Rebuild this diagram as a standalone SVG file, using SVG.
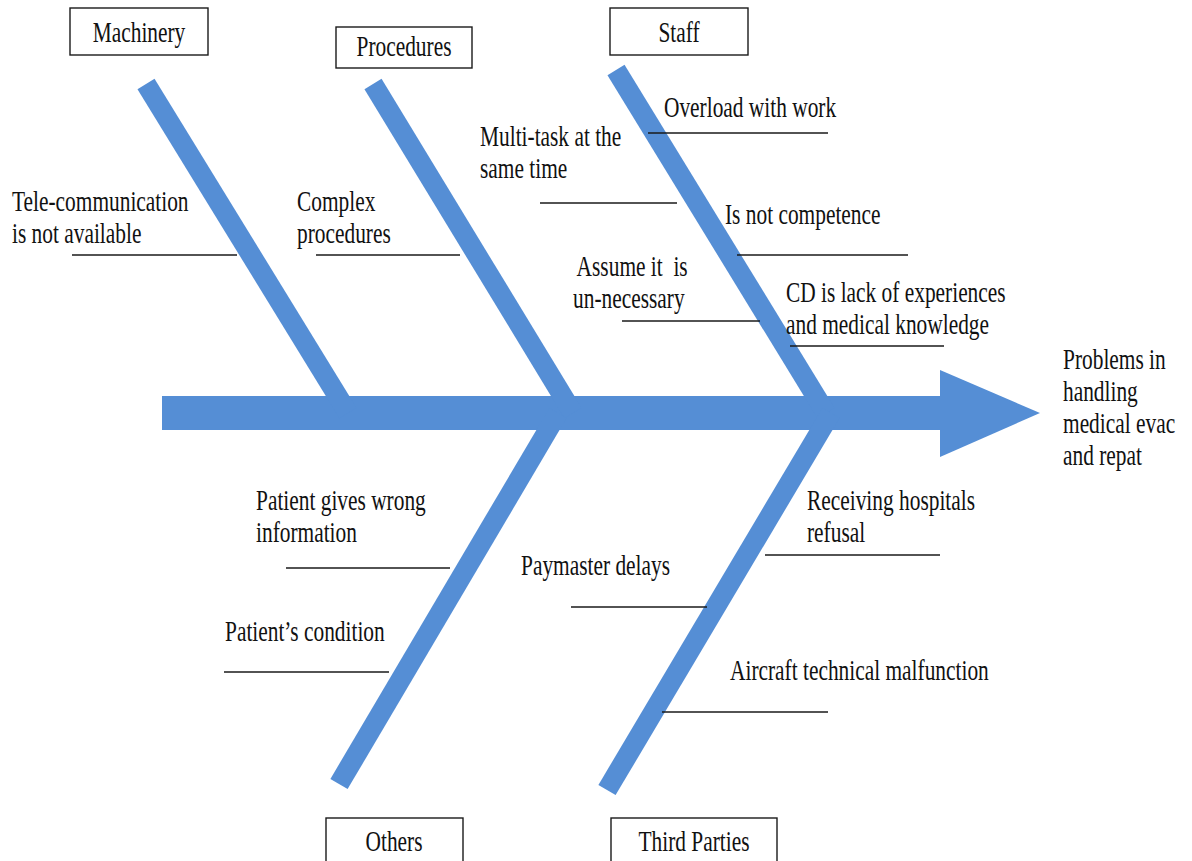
<svg xmlns="http://www.w3.org/2000/svg" width="1192" height="861" viewBox="0 0 1192 861">
<style>
.bone{stroke:#558ED5;stroke-width:20;stroke-linecap:butt;fill:none}
.tick{stroke:#1a1a1a;stroke-width:1.6}
.box{fill:#fff;stroke:#1a1a1a;stroke-width:1.4}
.t{font-family:"Liberation Serif","Times New Roman",serif;font-size:29.5px;fill:#111}
.c{text-anchor:middle}
</style>
<rect width="1192" height="861" fill="#fff"/>
<g id="connectors">
<rect x="162" y="396" width="780" height="34" fill="#558ED5"/>
<polygon points="940,370 1040,413 940,457" fill="#558ED5"/>
<line class="bone" x1="146" y1="84" x2="348" y2="413"/>
<line class="bone" x1="373" y1="84" x2="573" y2="413"/>
<line class="bone" x1="616" y1="70" x2="826" y2="413"/>
<line class="bone" x1="558" y1="413" x2="339" y2="784"/>
<line class="bone" x1="831" y1="413" x2="607" y2="790"/>
<line class="tick" x1="72" y1="255" x2="237" y2="255"/>
<line class="tick" x1="316" y1="255" x2="460" y2="255"/>
<line class="tick" x1="648" y1="133" x2="828" y2="133"/>
<line class="tick" x1="540" y1="203" x2="677" y2="203"/>
<line class="tick" x1="737" y1="255" x2="908" y2="255"/>
<line class="tick" x1="622" y1="321" x2="760" y2="321"/>
<line class="tick" x1="790" y1="346" x2="944" y2="346"/>
<line class="tick" x1="286" y1="568" x2="450" y2="568"/>
<line class="tick" x1="224" y1="672" x2="389" y2="672"/>
<line class="tick" x1="571" y1="607" x2="707" y2="607"/>
<line class="tick" x1="765" y1="555" x2="940" y2="555"/>
<line class="tick" x1="662" y1="712" x2="828" y2="712"/>
</g>
<g id="machinery">
<rect class="box" x="70" y="8" width="138" height="47"/>
<text class="t c" transform="translate(139,42) scale(0.725,1)">Machinery</text>
</g>
<g id="procedures">
<rect class="box" x="336" y="27" width="136" height="41"/>
<text class="t c" transform="translate(404,56) scale(0.725,1)">Procedures</text>
</g>
<g id="staff">
<rect class="box" x="610" y="8" width="138" height="47"/>
<text class="t c" transform="translate(679,42) scale(0.725,1)">Staff</text>
</g>
<g id="others">
<rect class="box" x="326" y="818" width="137" height="50"/>
<text class="t c" transform="translate(394,851) scale(0.725,1)">Others</text>
</g>
<g id="third-parties">
<rect class="box" x="611" y="818" width="166" height="50"/>
<text class="t c" transform="translate(694,851) scale(0.725,1)">Third Parties</text>
</g>
<g id="effect">
<text class="t" transform="translate(1063,369) scale(0.725,1)"><tspan x="0" y="0">Problems in</tspan><tspan x="0" y="32">handling</tspan><tspan x="0" y="64">medical evac</tspan><tspan x="0" y="96">and repat</tspan></text>
</g>
<g id="cause-telecom">
<text class="t" transform="translate(12,211) scale(0.725,1)"><tspan x="0" y="0">Tele-communication</tspan><tspan x="0" y="32">is not available</tspan></text>
</g>
<g id="cause-complex">
<text class="t" transform="translate(297,211) scale(0.725,1)"><tspan x="0" y="0">Complex</tspan><tspan x="0" y="32">procedures</tspan></text>
</g>
<g id="cause-overload">
<text class="t" transform="translate(664,117) scale(0.725,1)">Overload with work</text>
</g>
<g id="cause-multitask">
<text class="t" transform="translate(480,146) scale(0.725,1)"><tspan x="0" y="0">Multi-task at the</tspan><tspan x="0" y="32">same time</tspan></text>
</g>
<g id="cause-competence">
<text class="t" transform="translate(725,224) scale(0.725,1)">Is not competence</text>
</g>
<g id="cause-assume">
<text class="t" xml:space="preserve" style="white-space:pre" transform="translate(573,276) scale(0.725,1)"><tspan x="5" y="0">Assume it  is</tspan><tspan x="0" y="32">un-necessary</tspan></text>
</g>
<g id="cause-cd">
<text class="t" transform="translate(786,302) scale(0.725,1)"><tspan x="0" y="0">CD is lack of experiences</tspan><tspan x="0" y="32">and medical knowledge</tspan></text>
</g>
<g id="cause-wrong-info">
<text class="t" transform="translate(256,510) scale(0.725,1)"><tspan x="0" y="0">Patient gives wrong</tspan><tspan x="0" y="32">information</tspan></text>
</g>
<g id="cause-condition">
<text class="t" transform="translate(225,641) scale(0.725,1)">Patient’s condition</text>
</g>
<g id="cause-paymaster">
<text class="t" transform="translate(521,575) scale(0.725,1)">Paymaster delays</text>
</g>
<g id="cause-hospitals">
<text class="t" transform="translate(807,510) scale(0.725,1)"><tspan x="0" y="0">Receiving hospitals</tspan><tspan x="0" y="32">refusal</tspan></text>
</g>
<g id="cause-aircraft">
<text class="t" transform="translate(730,680) scale(0.725,1)">Aircraft technical malfunction</text>
</g>
</svg>
